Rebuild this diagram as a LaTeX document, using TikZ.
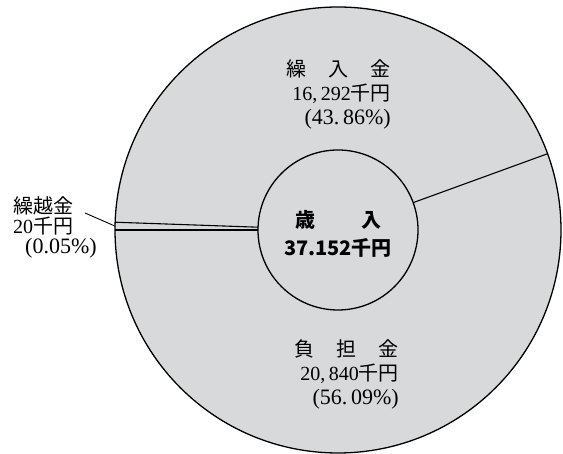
\documentclass[tikz,border=0pt]{standalone}
\usepackage{fontspec}
\setmainfont{Liberation Serif}
\newfontfamily\cjk{Noto Sans CJK JP}
\definecolor{ringgray}{RGB}{215,217,219}
\newcommand{\pctsize}{\fontsize{22}{24}\selectfont}
\tikzset{
  ring/.style={circle, draw, line width=1.3pt, fill=ringgray, inner sep=0pt, outer sep=0pt},
  share/.style={font=\fontsize{20}{24}\selectfont, inner sep=0pt},
  spoke/.style={line width=1.1pt}
}
\begin{document}
\begin{tikzpicture}[x=1pt,y=1pt]
  \useasboundingbox (0,0) rectangle (563,454);
  % Draw outer ring and centre disc
  \node[ring, minimum size=446pt] (outer) at (338,224) {};
  \node[ring, minimum size=160pt] (hub) at (outer.center) {};
  \node[font=\cjk\bfseries\fontsize{20}{28}\selectfont, align=center] (total) at (338,220)
    {歳\hspace{2.3em}入\\37.152千円};
  % Draw slice borders
  \draw [spoke] (hub.20) -- (outer.20);
  \draw [spoke] (hub.178) -- (outer.178);
  \draw [spoke] (hub.180) -- (outer.180);
  % Slice labels
  \node[share, align=right, anchor=east] (transfer) at (391,360)
    {{\cjk 繰\hspace{1.1em}入\hspace{1.1em}金}\\16,\,292{\cjk 千円}\\{\pctsize(43.\,86\%)}};
  \node[share, align=right, anchor=east] (charge) at (399,80)
    {{\cjk 負\hspace{1.1em}担\hspace{1.1em}金}\\20,\,840{\cjk 千円}\\{\pctsize(56.\,09\%)}};
  \node[share, font=\fontsize{20}{20}\selectfont, align=left, anchor=west] (carry) at (13,227)
    {{\cjk 繰越金}\\20{\cjk 千円}\\\hspace{0.6em}{\pctsize(0.05\%)}};
  % Leader for the thin slice
  \coordinate (lead) at (85,241);
  \draw [line width=0.9pt] (lead) -- (outer.179);
\end{tikzpicture}
\end{document}
